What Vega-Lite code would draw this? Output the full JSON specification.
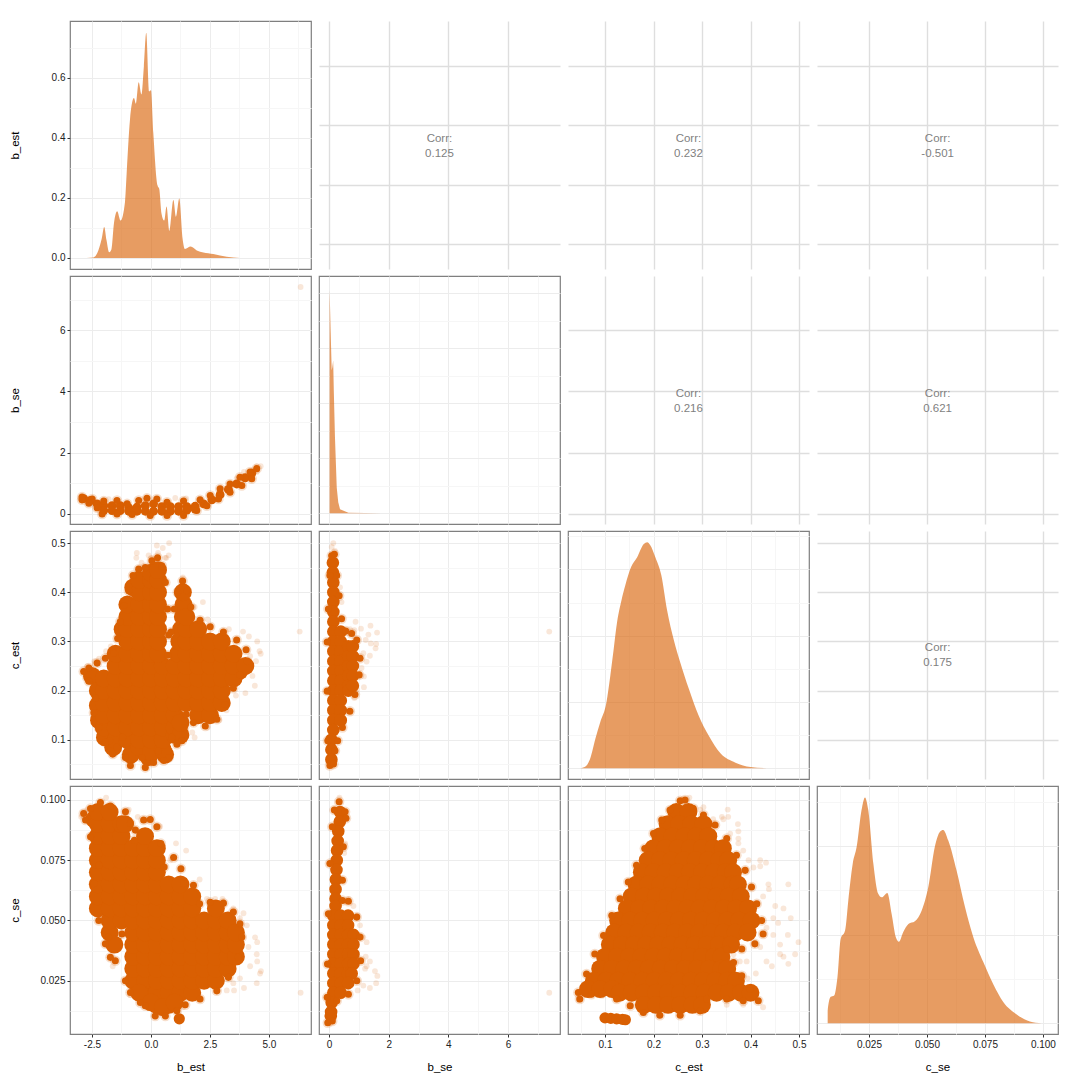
{"$schema":"https://vega.github.io/schema/vega-lite/v6.json","background":"white","padding":{"left":8,"top":20,"right":10,"bottom":5},"columns":4,"spacing":{"row":7,"column":8},"bounds":"flush","config":{"view":{"stroke":"#7f7f7f","strokeWidth":1.2},"axis":{"domain":false,"grid":true,"gridWidth":1,"tickSize":3,"tickColor":"#333333","labelColor":"#222222","labelFont":"Liberation Sans","labelFontSize":10,"labelPadding":2,"labelFlush":false,"labelOverlap":false,"titleFont":"Liberation Sans","titleFontSize":11.5,"titleFontWeight":"normal","titleColor":"#000000","zindex":0},"axisY":{"minExtent":43,"maxExtent":43,"titlePadding":7},"axisX":{"minExtent":20,"maxExtent":20,"titlePadding":7},"text":{"font":"Liberation Sans"}},
"datasets":{
"dbe":[{"x":-3.01,"y":0},{"x":-2.44,"y":0.002},{"x":-2.23,"y":0.025},{"x":-2.09,"y":0.063},{"x":-1.98,"y":0.103},{"x":-1.88,"y":0.058},{"x":-1.77,"y":0.019},{"x":-1.67,"y":0.03},{"x":-1.57,"y":0.114},{"x":-1.43,"y":0.156},{"x":-1.29,"y":0.125},{"x":-1.1,"y":0.187},{"x":-1.03,"y":0.282},{"x":-0.89,"y":0.46},{"x":-0.72,"y":0.533},{"x":-0.64,"y":0.514},{"x":-0.52,"y":0.586},{"x":-0.4,"y":0.545},{"x":-0.3,"y":0.639},{"x":-0.2,"y":0.751},{"x":-0.08,"y":0.555},{"x":0,"y":0.559},{"x":0.1,"y":0.416},{"x":0.28,"y":0.242},{"x":0.35,"y":0.231},{"x":0.45,"y":0.147},{"x":0.56,"y":0.125},{"x":0.66,"y":0.172},{"x":0.78,"y":0.09},{"x":0.95,"y":0.193},{"x":1.06,"y":0.137},{"x":1.2,"y":0.198},{"x":1.34,"y":0.064},{"x":1.44,"y":0.03},{"x":1.68,"y":0.038},{"x":1.94,"y":0.025},{"x":2.22,"y":0.018},{"x":2.64,"y":0.013},{"x":3.21,"y":0.004},{"x":3.77,"y":0}],
"dbs":[{"x":0.02,"y":0},{"x":0.021,"y":8.1},{"x":0.056,"y":6.6},{"x":0.09,"y":5.2},{"x":0.11,"y":5.3},{"x":0.14,"y":5.55},{"x":0.16,"y":4.5},{"x":0.2,"y":2.76},{"x":0.26,"y":0.93},{"x":0.31,"y":0.4},{"x":0.37,"y":0.15},{"x":0.65,"y":0.02},{"x":1.77,"y":0}],
"dce":[{"x":0.049,"y":0},{"x":0.061,"y":0.07},{"x":0.07,"y":0.32},{"x":0.08,"y":0.88},{"x":0.09,"y":1.38},{"x":0.103,"y":1.99},{"x":0.111,"y":2.8},{"x":0.118,"y":3.61},{"x":0.125,"y":4.42},{"x":0.134,"y":5.07},{"x":0.142,"y":5.53},{"x":0.154,"y":6.08},{"x":0.166,"y":6.36},{"x":0.18,"y":6.77},{"x":0.187,"y":6.82},{"x":0.193,"y":6.74},{"x":0.204,"y":6.36},{"x":0.216,"y":5.83},{"x":0.228,"y":4.77},{"x":0.242,"y":3.86},{"x":0.255,"y":3.2},{"x":0.273,"y":2.39},{"x":0.293,"y":1.59},{"x":0.314,"y":0.98},{"x":0.338,"y":0.45},{"x":0.369,"y":0.17},{"x":0.4,"y":0.04},{"x":0.444,"y":0}],
"dcs":[{"x":0.0072,"y":0},{"x":0.0072,"y":1.4},{"x":0.0085,"y":2.98},{"x":0.0099,"y":3.09},{"x":0.0114,"y":5.17},{"x":0.0128,"y":9.5},{"x":0.0147,"y":10.45},{"x":0.0161,"y":13.85},{"x":0.018,"y":18},{"x":0.0197,"y":19.9},{"x":0.0218,"y":24.04},{"x":0.0233,"y":25.47},{"x":0.0247,"y":24.04},{"x":0.0269,"y":18},{"x":0.029,"y":14.6},{"x":0.0305,"y":14.2},{"x":0.0329,"y":14.7},{"x":0.0348,"y":12.3},{"x":0.0366,"y":9.7},{"x":0.0379,"y":9.2},{"x":0.0398,"y":10.3},{"x":0.042,"y":11.2},{"x":0.0448,"y":11.5},{"x":0.0477,"y":12.7},{"x":0.0506,"y":15.4},{"x":0.0534,"y":19.9},{"x":0.0556,"y":21.6},{"x":0.057,"y":21.8},{"x":0.0592,"y":20.6},{"x":0.0628,"y":17.2},{"x":0.0664,"y":13.1},{"x":0.07,"y":9.7},{"x":0.0743,"y":6.9},{"x":0.0786,"y":4.4},{"x":0.0829,"y":2.4},{"x":0.0887,"y":1},{"x":0.0944,"y":0.19},{"x":0.0994,"y":0}],
"fa":[{"x":-2.85,"y":0.24},{"x":-2.8,"y":0.225},{"x":-2.7,"y":0.25},{"x":-2.4,"y":0.26},{"x":-2.2,"y":0.265},{"x":-1.9,"y":0.28},{"x":-1.7,"y":0.29},{"x":-1.45,"y":0.31},{"x":-1.3,"y":0.345},{"x":-1.15,"y":0.38},{"x":-0.75,"y":0.43},{"x":-0.62,"y":0.47},{"x":-0.55,"y":0.43},{"x":-0.4,"y":0.46},{"x":-0.1,"y":0.475},{"x":0,"y":0.47},{"x":0.25,"y":0.495},{"x":0.3,"y":0.48},{"x":0.6,"y":0.47},{"x":0.75,"y":0.475},{"x":0.77,"y":0.5},{"x":0.65,"y":0.47},{"x":0.5,"y":0.49},{"x":1.35,"y":0.43},{"x":1.45,"y":0.41},{"x":1.85,"y":0.37},{"x":2.2,"y":0.38},{"x":2.4,"y":0.345},{"x":3.3,"y":0.325},{"x":3.9,"y":0.32},{"x":4.15,"y":0.31},{"x":4.5,"y":0.3},{"x":4.45,"y":0.26},{"x":4.4,"y":0.21},{"x":4,"y":0.195},{"x":3.6,"y":0.19},{"x":3.2,"y":0.16},{"x":2.9,"y":0.14},{"x":2.4,"y":0.125},{"x":1.75,"y":0.115},{"x":1.85,"y":0.105},{"x":6.3,"y":0.32},{"x":-0.6,"y":0.48},{"x":-0.58,"y":0.44},{"x":4.6,"y":0.28},{"x":4.65,"y":0.275},{"x":4.2,"y":0.27},{"x":4.3,"y":0.23}],
"ea":[{"x":-2.63,"y":0.246},{"x":-2.28,"y":0.256},{"x":-1.93,"y":0.266},{"x":-1.58,"y":0.276},{"x":-1.41,"y":0.306},{"x":-1.3,"y":0.34},{"x":-1.15,"y":0.373},{"x":-0.94,"y":0.403},{"x":-0.76,"y":0.434},{"x":-0.52,"y":0.447},{"x":-0.24,"y":0.45},{"x":0.04,"y":0.464},{"x":0.28,"y":0.47},{"x":0.46,"y":0.454},{"x":0.61,"y":0.42},{"x":0.7,"y":0.366},{"x":0.75,"y":0.313},{"x":0.72,"y":0.272},{"x":0.85,"y":0.319},{"x":0.99,"y":0.366},{"x":1.13,"y":0.4},{"x":1.34,"y":0.423},{"x":1.52,"y":0.403},{"x":1.69,"y":0.37},{"x":2.08,"y":0.343},{"x":2.51,"y":0.33},{"x":3.07,"y":0.319},{"x":3.63,"y":0.303},{"x":4.03,"y":0.283},{"x":4.08,"y":0.259},{"x":3.77,"y":0.232},{"x":3.49,"y":0.205},{"x":3.14,"y":0.172},{"x":2.79,"y":0.142},{"x":2.3,"y":0.128},{"x":1.8,"y":0.135},{"x":1.49,"y":0.152},{"x":1.41,"y":0.125},{"x":1.31,"y":0.098},{"x":1.1,"y":0.091},{"x":0.89,"y":0.105},{"x":0.75,"y":0.064},{"x":0.54,"y":0.058},{"x":0.32,"y":0.078},{"x":0.11,"y":0.054},{"x":-0.24,"y":0.044},{"x":-0.38,"y":0.064},{"x":-0.87,"y":0.048},{"x":-1.08,"y":0.064},{"x":-1.2,"y":0.105},{"x":-1.44,"y":0.085},{"x":-1.62,"y":0.071},{"x":-1.75,"y":0.098},{"x":-1.93,"y":0.095},{"x":-2.21,"y":0.125},{"x":-2.42,"y":0.155},{"x":-2.35,"y":0.185},{"x":-2.63,"y":0.219},{"x":-2.85,"y":0.239}],
"ca":[{"x":-0.75,"y":0.41},{"x":-1.2,"y":0.325},{"x":3.75,"y":0.24},{"x":-2.5,"y":0.23},{"x":-2.25,"y":0.17},{"x":-2.25,"y":0.2},{"x":-2.2,"y":0.14},{"x":-1.95,"y":0.105},{"x":-1.6,"y":0.085},{"x":-0.1,"y":0.065},{"x":0.6,"y":0.07},{"x":-2,"y":0.125},{"x":-2,"y":0.15},{"x":-2,"y":0.175},{"x":-2,"y":0.2},{"x":-2,"y":0.225},{"x":-1.5,"y":0.1},{"x":-1.5,"y":0.125},{"x":-1.5,"y":0.15},{"x":-1.5,"y":0.175},{"x":-1.5,"y":0.2},{"x":-1.5,"y":0.225},{"x":-1.5,"y":0.25},{"x":-1.5,"y":0.275},{"x":-1,"y":0.1},{"x":-1,"y":0.125},{"x":-1,"y":0.15},{"x":-1,"y":0.175},{"x":-1,"y":0.2},{"x":-1,"y":0.225},{"x":-1,"y":0.25},{"x":-1,"y":0.275},{"x":-1,"y":0.3},{"x":-1,"y":0.325},{"x":-1,"y":0.35},{"x":-1,"y":0.375},{"x":-0.85,"y":0.07},{"x":-0.5,"y":0.085},{"x":-0.5,"y":0.1},{"x":-0.5,"y":0.125},{"x":-0.5,"y":0.15},{"x":-0.5,"y":0.175},{"x":-0.5,"y":0.2},{"x":-0.5,"y":0.225},{"x":-0.5,"y":0.25},{"x":-0.5,"y":0.275},{"x":-0.5,"y":0.3},{"x":-0.5,"y":0.325},{"x":-0.5,"y":0.35},{"x":-0.5,"y":0.375},{"x":-0.5,"y":0.4},{"x":-0.5,"y":0.425},{"x":0,"y":0.075},{"x":0,"y":0.1},{"x":0,"y":0.125},{"x":0,"y":0.15},{"x":0,"y":0.175},{"x":0,"y":0.2},{"x":0,"y":0.225},{"x":0,"y":0.25},{"x":0,"y":0.275},{"x":0,"y":0.3},{"x":0,"y":0.325},{"x":0,"y":0.35},{"x":0,"y":0.375},{"x":0,"y":0.4},{"x":0,"y":0.425},{"x":0,"y":0.44},{"x":0.5,"y":0.08},{"x":0.5,"y":0.1},{"x":0.5,"y":0.125},{"x":0.5,"y":0.15},{"x":0.5,"y":0.175},{"x":0.5,"y":0.2},{"x":0.5,"y":0.225},{"x":0.5,"y":0.25},{"x":0.3,"y":0.275},{"x":0.3,"y":0.3},{"x":0.3,"y":0.325},{"x":0.3,"y":0.35},{"x":0.3,"y":0.375},{"x":0.3,"y":0.4},{"x":0.3,"y":0.425},{"x":0.3,"y":0.445},{"x":1,"y":0.11},{"x":1,"y":0.125},{"x":1,"y":0.15},{"x":1,"y":0.175},{"x":1,"y":0.2},{"x":1,"y":0.225},{"x":1,"y":0.25},{"x":1.15,"y":0.275},{"x":1.2,"y":0.3},{"x":1.28,"y":0.325},{"x":1.35,"y":0.35},{"x":1.38,"y":0.375},{"x":1.35,"y":0.4},{"x":1.25,"y":0.11},{"x":1.25,"y":0.135},{"x":1.5,"y":0.175},{"x":1.5,"y":0.2},{"x":1.5,"y":0.225},{"x":1.5,"y":0.25},{"x":1.5,"y":0.275},{"x":1.5,"y":0.3},{"x":1.5,"y":0.325},{"x":1.5,"y":0.35},{"x":2,"y":0.15},{"x":2,"y":0.175},{"x":2,"y":0.2},{"x":2,"y":0.225},{"x":2,"y":0.25},{"x":2,"y":0.275},{"x":2,"y":0.3},{"x":2,"y":0.325},{"x":2.5,"y":0.15},{"x":2.5,"y":0.175},{"x":2.5,"y":0.2},{"x":2.5,"y":0.225},{"x":2.5,"y":0.25},{"x":2.5,"y":0.275},{"x":2.5,"y":0.3},{"x":3,"y":0.175},{"x":3,"y":0.2},{"x":3,"y":0.225},{"x":3,"y":0.25},{"x":3,"y":0.275},{"x":3,"y":0.3},{"x":3.5,"y":0.225},{"x":3.5,"y":0.25},{"x":3.5,"y":0.275},{"x":4,"y":0.25}],
"fb":[{"x":-1.9,"y":0.101},{"x":-2.87,"y":0.095},{"x":-2.96,"y":0.093},{"x":-0.56,"y":0.093},{"x":-0.94,"y":0.096},{"x":1.06,"y":0.082},{"x":1.49,"y":0.079},{"x":2.06,"y":0.067},{"x":-2.35,"y":0.075},{"x":-2.45,"y":0.066},{"x":2.72,"y":0.059},{"x":3.03,"y":0.059},{"x":3.92,"y":0.053},{"x":4.06,"y":0.048},{"x":4.41,"y":0.043},{"x":4.5,"y":0.041},{"x":4.48,"y":0.036},{"x":4.5,"y":0.033},{"x":4.66,"y":0.029},{"x":4.62,"y":0.028},{"x":4.48,"y":0.024},{"x":3.94,"y":0.022},{"x":3.52,"y":0.021},{"x":6.34,"y":0.02},{"x":-1.62,"y":0.031},{"x":-0.87,"y":0.019},{"x":1.35,"y":0.014},{"x":0.82,"y":0.075},{"x":3.49,"y":0.055},{"x":3.77,"y":0.051},{"x":4.13,"y":0.039},{"x":3.21,"y":0.021},{"x":4.2,"y":0.031},{"x":3.77,"y":0.026},{"x":2.37,"y":0.059},{"x":1.8,"y":0.064},{"x":0.39,"y":0.089},{"x":-1.72,"y":0.096},{"x":-2.7,"y":0.096},{"x":3.49,"y":0.024}],
"eb":[{"x":-2.85,"y":0.0944},{"x":-2.56,"y":0.0965},{"x":-2.14,"y":0.0989},{"x":-1.72,"y":0.0975},{"x":-1.08,"y":0.0951},{"x":-0.87,"y":0.0903},{"x":-0.7,"y":0.0833},{"x":-0.66,"y":0.0875},{"x":-0.31,"y":0.0917},{"x":-0.03,"y":0.0919},{"x":0.25,"y":0.0889},{"x":0.42,"y":0.0819},{"x":0.56,"y":0.0722},{"x":0.96,"y":0.0761},{"x":1.27,"y":0.0715},{"x":1.38,"y":0.0653},{"x":1.8,"y":0.0646},{"x":2.06,"y":0.0569},{"x":2.51,"y":0.0576},{"x":3.07,"y":0.0572},{"x":3.49,"y":0.0535},{"x":3.77,"y":0.0486},{"x":3.85,"y":0.0431},{"x":3.7,"y":0.0347},{"x":3.28,"y":0.0264},{"x":2.79,"y":0.0208},{"x":2.08,"y":0.0174},{"x":1.45,"y":0.015},{"x":1.1,"y":0.0125},{"x":0.61,"y":0.0104},{"x":0.18,"y":0.0104},{"x":-0.24,"y":0.0146},{"x":-0.45,"y":0.016},{"x":-0.87,"y":0.0201},{"x":-1.08,"y":0.025},{"x":-1.23,"y":0.0444},{"x":-1.51,"y":0.0333},{"x":-1.72,"y":0.0347},{"x":-1.79,"y":0.0431},{"x":-1.93,"y":0.0403},{"x":-2.21,"y":0.05},{"x":-2.42,"y":0.0653},{"x":-2.21,"y":0.0729},{"x":-2.56,"y":0.0847},{"x":-2.77,"y":0.0917}],
"cb":[{"x":-2.4,"y":0.092},{"x":-2.25,"y":0.055},{"x":-2.25,"y":0.06},{"x":-2.25,"y":0.065},{"x":-2.25,"y":0.07},{"x":-2.25,"y":0.075},{"x":-2.25,"y":0.08},{"x":-2.25,"y":0.085},{"x":-2.25,"y":0.09},{"x":-2.25,"y":0.095},{"x":-1.75,"y":0.045},{"x":-1.75,"y":0.05},{"x":-1.75,"y":0.055},{"x":-1.75,"y":0.06},{"x":-1.75,"y":0.065},{"x":-1.75,"y":0.07},{"x":-1.75,"y":0.075},{"x":-1.75,"y":0.08},{"x":-1.75,"y":0.085},{"x":-1.75,"y":0.09},{"x":-1.75,"y":0.095},{"x":-1.55,"y":0.04},{"x":-1.25,"y":0.05},{"x":-1.25,"y":0.055},{"x":-1.25,"y":0.06},{"x":-1.25,"y":0.065},{"x":-1.25,"y":0.07},{"x":-1.25,"y":0.075},{"x":-1.25,"y":0.08},{"x":-1.25,"y":0.085},{"x":-1.25,"y":0.09},{"x":-0.75,"y":0.025},{"x":-0.75,"y":0.03},{"x":-0.75,"y":0.035},{"x":-0.75,"y":0.04},{"x":-0.75,"y":0.045},{"x":-0.75,"y":0.05},{"x":-0.75,"y":0.055},{"x":-0.75,"y":0.06},{"x":-0.75,"y":0.065},{"x":-0.75,"y":0.07},{"x":-0.75,"y":0.075},{"x":-0.75,"y":0.08},{"x":-0.25,"y":0.02},{"x":-0.25,"y":0.025},{"x":-0.25,"y":0.03},{"x":-0.25,"y":0.035},{"x":-0.25,"y":0.04},{"x":-0.25,"y":0.045},{"x":-0.25,"y":0.05},{"x":-0.25,"y":0.055},{"x":-0.25,"y":0.06},{"x":-0.25,"y":0.065},{"x":-0.25,"y":0.07},{"x":-0.25,"y":0.075},{"x":-0.25,"y":0.08},{"x":-0.25,"y":0.085},{"x":0.25,"y":0.015},{"x":0.25,"y":0.02},{"x":0.25,"y":0.025},{"x":0.25,"y":0.03},{"x":0.25,"y":0.035},{"x":0.25,"y":0.04},{"x":0.25,"y":0.045},{"x":0.25,"y":0.05},{"x":0.25,"y":0.055},{"x":0.25,"y":0.06},{"x":0.25,"y":0.065},{"x":0.25,"y":0.07},{"x":0.25,"y":0.075},{"x":0.25,"y":0.08},{"x":0.75,"y":0.015},{"x":0.75,"y":0.02},{"x":0.75,"y":0.025},{"x":0.75,"y":0.03},{"x":0.75,"y":0.035},{"x":0.75,"y":0.04},{"x":0.75,"y":0.045},{"x":0.75,"y":0.05},{"x":0.75,"y":0.055},{"x":0.75,"y":0.06},{"x":0.75,"y":0.065},{"x":1.25,"y":0.02},{"x":1.25,"y":0.025},{"x":1.25,"y":0.03},{"x":1.25,"y":0.035},{"x":1.25,"y":0.04},{"x":1.25,"y":0.045},{"x":1.25,"y":0.05},{"x":1.25,"y":0.055},{"x":1.25,"y":0.06},{"x":1.25,"y":0.065},{"x":1.75,"y":0.02},{"x":1.75,"y":0.025},{"x":1.75,"y":0.03},{"x":1.75,"y":0.035},{"x":1.75,"y":0.04},{"x":1.75,"y":0.045},{"x":1.75,"y":0.05},{"x":1.75,"y":0.055},{"x":1.75,"y":0.06},{"x":2.25,"y":0.025},{"x":2.25,"y":0.03},{"x":2.25,"y":0.035},{"x":2.25,"y":0.04},{"x":2.25,"y":0.045},{"x":2.25,"y":0.05},{"x":2.75,"y":0.025},{"x":2.75,"y":0.03},{"x":2.75,"y":0.035},{"x":2.75,"y":0.04},{"x":2.75,"y":0.045},{"x":2.75,"y":0.05},{"x":2.75,"y":0.055},{"x":3.25,"y":0.03},{"x":3.25,"y":0.035},{"x":3.25,"y":0.04},{"x":3.25,"y":0.045},{"x":3.25,"y":0.05},{"x":3.6,"y":0.035},{"x":3.6,"y":0.04},{"x":3.6,"y":0.045},{"x":-0.5,"y":0.02},{"x":0,"y":0.016},{"x":0.5,"y":0.014},{"x":1,"y":0.016},{"x":-1.1,"y":0.09}],
"sb":[{"x":1.2,"y":0.0092}],
"fc":[{"x":0.274,"y":0.101},{"x":0.353,"y":0.096},{"x":0.354,"y":0.093},{"x":0.341,"y":0.093},{"x":0.374,"y":0.09},{"x":0.375,"y":0.087},{"x":0.375,"y":0.084},{"x":0.375,"y":0.082},{"x":0.396,"y":0.075},{"x":0.42,"y":0.075},{"x":0.432,"y":0.074},{"x":0.42,"y":0.0725},{"x":0.437,"y":0.065},{"x":0.478,"y":0.065},{"x":0.438,"y":0.063},{"x":0.468,"y":0.055},{"x":0.483,"y":0.051},{"x":0.451,"y":0.056},{"x":0.457,"y":0.049},{"x":0.447,"y":0.044},{"x":0.477,"y":0.044},{"x":0.499,"y":0.041},{"x":0.492,"y":0.036},{"x":0.468,"y":0.035},{"x":0.478,"y":0.032},{"x":0.433,"y":0.033},{"x":0.444,"y":0.031},{"x":0.411,"y":0.028},{"x":0.394,"y":0.026},{"x":0.426,"y":0.014},{"x":0.385,"y":0.015},{"x":0.046,"y":0.017},{"x":0.048,"y":0.019},{"x":0.303,"y":0.097},{"x":0.323,"y":0.092},{"x":0.344,"y":0.092},{"x":0.296,"y":0.096},{"x":0.358,"y":0.086},{"x":0.385,"y":0.079},{"x":0.406,"y":0.072},{"x":0.426,"y":0.06},{"x":0.447,"y":0.051},{"x":0.433,"y":0.047},{"x":0.461,"y":0.04},{"x":0.42,"y":0.039},{"x":0.392,"y":0.033},{"x":0.365,"y":0.036},{"x":0.378,"y":0.033},{"x":0.406,"y":0.021},{"x":0.351,"y":0.015},{"x":0.31,"y":0.016},{"x":0.461,"y":0.036}],
"ec":[{"x":0.045,"y":0.0201},{"x":0.062,"y":0.0278},{"x":0.079,"y":0.0361},{"x":0.097,"y":0.0438},{"x":0.114,"y":0.0521},{"x":0.131,"y":0.059},{"x":0.148,"y":0.066},{"x":0.165,"y":0.0729},{"x":0.182,"y":0.0799},{"x":0.2,"y":0.0861},{"x":0.217,"y":0.0917},{"x":0.234,"y":0.0958},{"x":0.255,"y":0.0997},{"x":0.265,"y":0.1},{"x":0.282,"y":0.0965},{"x":0.303,"y":0.0938},{"x":0.327,"y":0.0896},{"x":0.351,"y":0.084},{"x":0.371,"y":0.0771},{"x":0.389,"y":0.0708},{"x":0.402,"y":0.0639},{"x":0.413,"y":0.0569},{"x":0.423,"y":0.05},{"x":0.426,"y":0.0444},{"x":0.409,"y":0.0403},{"x":0.382,"y":0.0382},{"x":0.351,"y":0.0382},{"x":0.365,"y":0.0326},{"x":0.382,"y":0.0271},{"x":0.399,"y":0.0215},{"x":0.416,"y":0.0167},{"x":0.385,"y":0.0167},{"x":0.351,"y":0.0174},{"x":0.31,"y":0.0174},{"x":0.296,"y":0.0125},{"x":0.255,"y":0.0107},{"x":0.213,"y":0.0107},{"x":0.179,"y":0.0118},{"x":0.152,"y":0.0146},{"x":0.124,"y":0.0174},{"x":0.093,"y":0.0197},{"x":0.072,"y":0.0194},{"x":0.048,"y":0.0174}],
"cc":[{"x":0.247,"y":0.095},{"x":0.272,"y":0.095},{"x":0.229,"y":0.09},{"x":0.253,"y":0.09},{"x":0.278,"y":0.09},{"x":0.303,"y":0.09},{"x":0.214,"y":0.085},{"x":0.239,"y":0.085},{"x":0.264,"y":0.085},{"x":0.288,"y":0.085},{"x":0.313,"y":0.085},{"x":0.2,"y":0.08},{"x":0.225,"y":0.08},{"x":0.25,"y":0.08},{"x":0.275,"y":0.08},{"x":0.3,"y":0.08},{"x":0.324,"y":0.08},{"x":0.343,"y":0.08},{"x":0.188,"y":0.075},{"x":0.213,"y":0.075},{"x":0.237,"y":0.075},{"x":0.262,"y":0.075},{"x":0.287,"y":0.075},{"x":0.312,"y":0.075},{"x":0.336,"y":0.075},{"x":0.354,"y":0.075},{"x":0.176,"y":0.07},{"x":0.2,"y":0.07},{"x":0.225,"y":0.07},{"x":0.25,"y":0.07},{"x":0.275,"y":0.07},{"x":0.3,"y":0.07},{"x":0.324,"y":0.07},{"x":0.349,"y":0.07},{"x":0.364,"y":0.07},{"x":0.165,"y":0.065},{"x":0.189,"y":0.065},{"x":0.214,"y":0.065},{"x":0.239,"y":0.065},{"x":0.264,"y":0.065},{"x":0.288,"y":0.065},{"x":0.313,"y":0.065},{"x":0.338,"y":0.065},{"x":0.363,"y":0.065},{"x":0.374,"y":0.065},{"x":0.155,"y":0.06},{"x":0.18,"y":0.06},{"x":0.205,"y":0.06},{"x":0.23,"y":0.06},{"x":0.255,"y":0.06},{"x":0.28,"y":0.06},{"x":0.305,"y":0.06},{"x":0.33,"y":0.06},{"x":0.355,"y":0.06},{"x":0.38,"y":0.06},{"x":0.145,"y":0.055},{"x":0.17,"y":0.055},{"x":0.195,"y":0.055},{"x":0.22,"y":0.055},{"x":0.245,"y":0.055},{"x":0.27,"y":0.055},{"x":0.295,"y":0.055},{"x":0.32,"y":0.055},{"x":0.345,"y":0.055},{"x":0.37,"y":0.055},{"x":0.395,"y":0.055},{"x":0.127,"y":0.05},{"x":0.152,"y":0.05},{"x":0.177,"y":0.05},{"x":0.202,"y":0.05},{"x":0.227,"y":0.05},{"x":0.252,"y":0.05},{"x":0.277,"y":0.05},{"x":0.302,"y":0.05},{"x":0.327,"y":0.05},{"x":0.352,"y":0.05},{"x":0.377,"y":0.05},{"x":0.402,"y":0.05},{"x":0.119,"y":0.045},{"x":0.144,"y":0.045},{"x":0.169,"y":0.045},{"x":0.194,"y":0.045},{"x":0.219,"y":0.045},{"x":0.244,"y":0.045},{"x":0.269,"y":0.045},{"x":0.294,"y":0.045},{"x":0.319,"y":0.045},{"x":0.344,"y":0.045},{"x":0.369,"y":0.045},{"x":0.394,"y":0.045},{"x":0.11,"y":0.04},{"x":0.135,"y":0.04},{"x":0.16,"y":0.04},{"x":0.185,"y":0.04},{"x":0.21,"y":0.04},{"x":0.235,"y":0.04},{"x":0.26,"y":0.04},{"x":0.285,"y":0.04},{"x":0.31,"y":0.04},{"x":0.335,"y":0.04},{"x":0.36,"y":0.04},{"x":0.1,"y":0.035},{"x":0.125,"y":0.035},{"x":0.15,"y":0.035},{"x":0.175,"y":0.035},{"x":0.2,"y":0.035},{"x":0.225,"y":0.035},{"x":0.25,"y":0.035},{"x":0.275,"y":0.035},{"x":0.3,"y":0.035},{"x":0.325,"y":0.035},{"x":0.34,"y":0.035},{"x":0.09,"y":0.03},{"x":0.115,"y":0.03},{"x":0.14,"y":0.03},{"x":0.165,"y":0.03},{"x":0.19,"y":0.03},{"x":0.215,"y":0.03},{"x":0.24,"y":0.03},{"x":0.265,"y":0.03},{"x":0.29,"y":0.03},{"x":0.315,"y":0.03},{"x":0.34,"y":0.03},{"x":0.352,"y":0.03},{"x":0.077,"y":0.025},{"x":0.102,"y":0.025},{"x":0.127,"y":0.025},{"x":0.152,"y":0.025},{"x":0.177,"y":0.025},{"x":0.202,"y":0.025},{"x":0.227,"y":0.025},{"x":0.252,"y":0.025},{"x":0.277,"y":0.025},{"x":0.302,"y":0.025},{"x":0.327,"y":0.025},{"x":0.352,"y":0.025},{"x":0.37,"y":0.025},{"x":0.065,"y":0.0215},{"x":0.09,"y":0.0215},{"x":0.115,"y":0.0215},{"x":0.13,"y":0.02},{"x":0.155,"y":0.02},{"x":0.18,"y":0.02},{"x":0.205,"y":0.02},{"x":0.23,"y":0.02},{"x":0.255,"y":0.02},{"x":0.28,"y":0.02},{"x":0.305,"y":0.02},{"x":0.33,"y":0.02},{"x":0.355,"y":0.02},{"x":0.38,"y":0.02},{"x":0.4,"y":0.02},{"x":0.18,"y":0.015},{"x":0.205,"y":0.015},{"x":0.23,"y":0.015},{"x":0.255,"y":0.015},{"x":0.28,"y":0.015},{"x":0.3,"y":0.015}],
"sc":[{"x":0.1,"y":0.0096},{"x":0.112,"y":0.0094},{"x":0.124,"y":0.0092},{"x":0.136,"y":0.009},{"x":0.142,"y":0.0088}],
"fd":[{"x":0.145,"y":0.5},{"x":0.09,"y":0.492},{"x":0.2,"y":0.484},{"x":0.37,"y":0.41},{"x":0.42,"y":0.38},{"x":0.45,"y":0.346},{"x":0.89,"y":0.34},{"x":1.07,"y":0.326},{"x":1.39,"y":0.332},{"x":1.61,"y":0.318},{"x":0.7,"y":0.325},{"x":0.85,"y":0.323},{"x":1.23,"y":0.303},{"x":1.32,"y":0.314},{"x":1.4,"y":0.296},{"x":1.58,"y":0.295},{"x":1.56,"y":0.286},{"x":1.37,"y":0.271},{"x":1.15,"y":0.276},{"x":1.26,"y":0.259},{"x":1.17,"y":0.229},{"x":1.17,"y":0.207},{"x":0.93,"y":0.202},{"x":0.85,"y":0.185},{"x":1.09,"y":0.246},{"x":7.38,"y":0.32}],
"ed":[{"x":0.03,"y":0.048},{"x":-0.04,"y":0.098},{"x":-0.06,"y":0.199},{"x":-0.06,"y":0.299},{"x":-0.02,"y":0.366},{"x":0.03,"y":0.434},{"x":0.09,"y":0.474},{"x":0.18,"y":0.477},{"x":0.26,"y":0.434},{"x":0.34,"y":0.393},{"x":0.42,"y":0.346},{"x":0.56,"y":0.321},{"x":0.76,"y":0.316},{"x":0.93,"y":0.303},{"x":1.04,"y":0.266},{"x":1.01,"y":0.232},{"x":0.87,"y":0.192},{"x":0.7,"y":0.158},{"x":0.45,"y":0.125},{"x":0.29,"y":0.098},{"x":0.15,"y":0.051},{"x":0.2,"y":0.078}],
"cd":[{"x":0.13,"y":0.46},{"x":0.13,"y":0.44},{"x":0.145,"y":0.42},{"x":0.145,"y":0.4},{"x":0.145,"y":0.38},{"x":0.145,"y":0.36},{"x":0.145,"y":0.34},{"x":0.145,"y":0.32},{"x":0.145,"y":0.3},{"x":0.145,"y":0.28},{"x":0.145,"y":0.26},{"x":0.145,"y":0.24},{"x":0.145,"y":0.22},{"x":0.145,"y":0.2},{"x":0.145,"y":0.18},{"x":0.145,"y":0.16},{"x":0.145,"y":0.14},{"x":0.145,"y":0.12},{"x":0.08,"y":0.1},{"x":0.08,"y":0.08},{"x":0.08,"y":0.06},{"x":0.395,"y":0.32},{"x":0.395,"y":0.3},{"x":0.395,"y":0.28},{"x":0.395,"y":0.26},{"x":0.395,"y":0.24},{"x":0.395,"y":0.22},{"x":0.395,"y":0.2},{"x":0.395,"y":0.18},{"x":0.395,"y":0.16},{"x":0.395,"y":0.14},{"x":0.645,"y":0.29},{"x":0.645,"y":0.27},{"x":0.645,"y":0.25},{"x":0.645,"y":0.23},{"x":0.645,"y":0.21},{"x":0.645,"y":0.2},{"x":0.8,"y":0.29},{"x":0.8,"y":0.27},{"x":0.8,"y":0.25},{"x":0.8,"y":0.23},{"x":0.8,"y":0.21}],
"fe":[{"x":0.35,"y":0.101},{"x":0.54,"y":0.082},{"x":0.51,"y":0.078},{"x":0.45,"y":0.067},{"x":0.65,"y":0.059},{"x":0.96,"y":0.052},{"x":1.04,"y":0.048},{"x":1.15,"y":0.043},{"x":1.26,"y":0.041},{"x":1.23,"y":0.035},{"x":1.37,"y":0.033},{"x":1.21,"y":0.03},{"x":1.54,"y":0.029},{"x":1.62,"y":0.027},{"x":1.58,"y":0.024},{"x":1.37,"y":0.022},{"x":1.15,"y":0.023},{"x":0.96,"y":0.021},{"x":1.26,"y":0.031},{"x":7.38,"y":0.02},{"x":0.82,"y":0.056}],
"ee":[{"x":0.34,"y":0.0993},{"x":0.54,"y":0.0951},{"x":0.57,"y":0.0924},{"x":0.48,"y":0.0806},{"x":0.45,"y":0.0667},{"x":0.45,"y":0.0583},{"x":0.65,"y":0.058},{"x":0.93,"y":0.0514},{"x":1.04,"y":0.0431},{"x":1.06,"y":0.0333},{"x":0.93,"y":0.025},{"x":0.65,"y":0.0194},{"x":0.26,"y":0.0167},{"x":0.11,"y":0.0083},{"x":-0.04,"y":0.0076},{"x":-0.06,"y":0.0181},{"x":-0.05,"y":0.0319},{"x":-0.02,"y":0.0528},{"x":0.03,"y":0.0736},{"x":0.11,"y":0.0889},{"x":0.18,"y":0.0958}],
"ce":[{"x":0.37,"y":0.095},{"x":0.36,"y":0.091},{"x":0.31,"y":0.087},{"x":0.29,"y":0.083},{"x":0.27,"y":0.079},{"x":0.26,"y":0.075},{"x":0.25,"y":0.071},{"x":0.23,"y":0.067},{"x":0.22,"y":0.063},{"x":0.22,"y":0.059},{"x":0.22,"y":0.056},{"x":0.145,"y":0.052},{"x":0.39,"y":0.052},{"x":0.64,"y":0.052},{"x":0.145,"y":0.048},{"x":0.39,"y":0.048},{"x":0.64,"y":0.048},{"x":0.145,"y":0.044},{"x":0.39,"y":0.044},{"x":0.64,"y":0.044},{"x":0.82,"y":0.044},{"x":0.145,"y":0.04},{"x":0.39,"y":0.04},{"x":0.64,"y":0.04},{"x":0.82,"y":0.04},{"x":0.145,"y":0.036},{"x":0.39,"y":0.036},{"x":0.64,"y":0.036},{"x":0.82,"y":0.036},{"x":0.145,"y":0.032},{"x":0.39,"y":0.032},{"x":0.64,"y":0.032},{"x":0.82,"y":0.032},{"x":0.145,"y":0.028},{"x":0.39,"y":0.028},{"x":0.64,"y":0.028},{"x":0.76,"y":0.028},{"x":0.145,"y":0.024},{"x":0.39,"y":0.024},{"x":0.64,"y":0.024},{"x":0.145,"y":0.02},{"x":0.39,"y":0.02},{"x":0.09,"y":0.016},{"x":0.07,"y":0.012},{"x":0.06,"y":0.0105}],
"ff":[{"x":-2.92,"y":0.55},{"x":-2.77,"y":0.51},{"x":1.03,"y":0.52},{"x":1.49,"y":0.51},{"x":-0.17,"y":0.49},{"x":-1.79,"y":0.48},{"x":3.94,"y":1.37},{"x":4.48,"y":1.56},{"x":4.65,"y":1.56},{"x":4.34,"y":1.42},{"x":6.34,"y":7.41},{"x":4.48,"y":1.37},{"x":4.2,"y":1.2},{"x":3.63,"y":1.15}],
"ef":[{"x":-2.92,"y":0.55},{"x":-2.49,"y":0.49},{"x":-2,"y":0.42},{"x":-1.44,"y":0.44},{"x":-1.01,"y":0.33},{"x":-0.52,"y":0.44},{"x":-0.17,"y":0.51},{"x":0.25,"y":0.49},{"x":0.68,"y":0.38},{"x":1.38,"y":0.42},{"x":2.08,"y":0.46},{"x":2.51,"y":0.6},{"x":2.93,"y":0.82},{"x":3.35,"y":0.98},{"x":3.77,"y":1.2},{"x":4.2,"y":1.37},{"x":4.48,"y":1.48},{"x":4.27,"y":1.15},{"x":3.85,"y":0.93},{"x":3.35,"y":0.71},{"x":2.86,"y":0.49},{"x":2.37,"y":0.27},{"x":1.94,"y":0.11},{"x":1.38,"y":-0.05},{"x":0.68,"y":-0.05},{"x":-0.03,"y":-0.05},{"x":-0.8,"y":-0.02},{"x":-1.44,"y":0},{"x":-2.07,"y":0},{"x":-2.28,"y":0.2},{"x":-2.63,"y":0.35},{"x":-2.92,"y":0.46}],
"cf":[{"x":-2.85,"y":0.5},{"x":-2.56,"y":0.44},{"x":-2.28,"y":0.33},{"x":-2,"y":0.27},{"x":-2,"y":0.11},{"x":-1.65,"y":0.27},{"x":-1.65,"y":0.11},{"x":-1.3,"y":0.27},{"x":-1.3,"y":0.11},{"x":-0.94,"y":0.2},{"x":-0.94,"y":0.09},{"x":-0.59,"y":0.22},{"x":-0.59,"y":0.09},{"x":-0.24,"y":0.27},{"x":-0.24,"y":0.09},{"x":0.11,"y":0.33},{"x":0.11,"y":0.09},{"x":0.46,"y":0.24},{"x":0.46,"y":0.09},{"x":0.82,"y":0.24},{"x":0.82,"y":0.09},{"x":1.17,"y":0.24},{"x":1.17,"y":0.09},{"x":1.52,"y":0.24},{"x":1.52,"y":0.13},{"x":1.87,"y":0.25},{"x":1.87,"y":0.16},{"x":2.23,"y":0.33},{"x":2.58,"y":0.46},{"x":2.93,"y":0.63},{"x":3.28,"y":0.8},{"x":3.63,"y":0.98},{"x":3.99,"y":1.18},{"x":4.27,"y":1.33}],
"t1":[{"x":3.7,"y":1.675,"t":"Corr:\n0.125"}],"t2":[{"x":0.272,"y":1.675,"t":"Corr:\n0.232"}],"t3":[{"x":0.0546,"y":1.675,"t":"Corr:\n-0.501"}],"t4":[{"x":0.272,"y":3.72,"t":"Corr:\n0.216"}],"t5":[{"x":0.0546,"y":3.72,"t":"Corr:\n0.621"}],"t6":[{"x":0.0546,"y":0.2725,"t":"Corr:\n0.175"}]
},
"concat":[
{"width":241,"height":248,"data":{"name":"dbe"},"mark":{"type":"area","color":"#d95f02","opacity":0.62,"interpolate":"monotone"},"encoding":{"x":{"field":"x","type":"quantitative","scale":{"domain":[-3.43,6.78],"nice":false,"zero":false},"axis":{"values":[-2.5,-1.25,0,1.25,2.5,3.75,5,6.25],"gridColor":{"condition":{"test":"datum.value%2.5!=0","value":"#f6f6f6"},"value":"#ececec"},"labels":false,"ticks":false,"title":null}},"y":{"field":"y","type":"quantitative","scale":{"domain":[-0.0367,0.79],"nice":false,"zero":false},"axis":{"values":[0,0.1,0.2,0.3,0.4,0.5,0.6,0.7],"gridColor":{"condition":{"test":"round(datum.value*10)%2!=0","value":"#f6f6f6"},"value":"#ececec"},"tickOpacity":{"condition":{"test":"round(datum.value*10)%2!=0","value":0},"value":1},"labelExpr":"round(datum.value*10)%2!=0?'':format(datum.value,'.1f')","title":"b_est"}}}},
{"width":241,"height":248,"view":{"stroke":null},"data":{"name":"t1"},"mark":{"type":"text","color":"#7f7f7f","fontSize":11.5,"lineBreak":"\n","lineHeight":15,"baseline":"middle","dy":-6.5},"encoding":{"text":{"field":"t"},"x":{"field":"x","type":"quantitative","scale":{"domain":[-0.335,7.74],"nice":false,"zero":false},"axis":{"values":[0,2,4,6],"gridColor":"#dedede","gridWidth":1.4,"labels":false,"ticks":false,"title":null}},"y":{"field":"y","type":"quantitative","scale":{"domain":[-3.55,6.9],"nice":false,"zero":false},"axis":{"values":[-2.5,0,2.5,5],"gridColor":"#dedede","gridWidth":1.4,"labels":false,"ticks":false,"title":null}}}},
{"width":241,"height":248,"view":{"stroke":null},"data":{"name":"t2"},"mark":{"type":"text","color":"#7f7f7f","fontSize":11.5,"lineBreak":"\n","lineHeight":15,"baseline":"middle","dy":-6.5},"encoding":{"text":{"field":"t"},"x":{"field":"x","type":"quantitative","scale":{"domain":[0.0237,0.5206],"nice":false,"zero":false},"axis":{"values":[0.1,0.2,0.3,0.4,0.5],"gridColor":"#dedede","gridWidth":1.4,"labels":false,"ticks":false,"title":null}},"y":{"field":"y","type":"quantitative","scale":{"domain":[-3.55,6.9],"nice":false,"zero":false},"axis":{"values":[-2.5,0,2.5,5],"gridColor":"#dedede","gridWidth":1.4,"labels":false,"ticks":false,"title":null}}}},
{"width":241,"height":248,"view":{"stroke":null},"data":{"name":"t3"},"mark":{"type":"text","color":"#7f7f7f","fontSize":11.5,"lineBreak":"\n","lineHeight":15,"baseline":"middle","dy":-6.5},"encoding":{"text":{"field":"t"},"x":{"field":"x","type":"quantitative","scale":{"domain":[0.0026,0.1065],"nice":false,"zero":false},"axis":{"values":[0.025,0.05,0.075,0.1],"gridColor":"#dedede","gridWidth":1.4,"labels":false,"ticks":false,"title":null}},"y":{"field":"y","type":"quantitative","scale":{"domain":[-3.55,6.9],"nice":false,"zero":false},"axis":{"values":[-2.5,0,2.5,5],"gridColor":"#dedede","gridWidth":1.4,"labels":false,"ticks":false,"title":null}}}},

{"width":241,"height":248,"encoding":{"x":{"field":"x","type":"quantitative","scale":{"domain":[-3.43,6.78],"nice":false,"zero":false},"axis":{"values":[-2.5,-1.25,0,1.25,2.5,3.75,5,6.25],"gridColor":{"condition":{"test":"datum.value%2.5!=0","value":"#f6f6f6"},"value":"#ececec"},"labels":false,"ticks":false,"title":null}},"y":{"field":"y","type":"quantitative","scale":{"domain":[-0.328,7.77],"nice":false,"zero":false},"axis":{"values":[0,1,2,3,4,5,6,7],"gridColor":{"condition":{"test":"datum.value%2!=0","value":"#f6f6f6"},"value":"#ececec"},"tickOpacity":{"condition":{"test":"datum.value%2!=0","value":0},"value":1},"labelExpr":"datum.value%2!=0?'':format(datum.value,'d')","title":"b_se"}}},"layer":[{"data":{"name":"ff"},"mark":{"type":"circle","size":34,"color":"#d95f02","opacity":0.15}},{"data":{"name":"ef"},"mark":{"type":"circle","size":110,"color":"#d95f02","opacity":0.2}},{"data":{"name":"cf"},"mark":{"type":"circle","size":80,"color":"#d95f02","opacity":1}},{"data":{"name":"ef"},"mark":{"type":"circle","size":50,"color":"#d95f02","opacity":1}}]},
{"width":241,"height":248,"data":{"name":"dbs"},"mark":{"type":"area","color":"#d95f02","opacity":0.62},"encoding":{"x":{"field":"x","type":"quantitative","scale":{"domain":[-0.335,7.74],"nice":false,"zero":false},"axis":{"values":[0,1,2,3,4,5,6,7],"gridColor":{"condition":{"test":"datum.value%2!=0","value":"#f6f6f6"},"value":"#ececec"},"labels":false,"ticks":false,"title":null}},"y":{"field":"y","type":"quantitative","scale":{"domain":[-0.39,8.62],"nice":false,"zero":false},"axis":{"values":[0,1,2,3,4,5,6,7,8],"gridColor":{"condition":{"test":"datum.value%2!=0","value":"#f6f6f6"},"value":"#ececec"},"labels":false,"ticks":false,"title":null}}}},
{"width":241,"height":248,"view":{"stroke":null},"data":{"name":"t4"},"mark":{"type":"text","color":"#7f7f7f","fontSize":11.5,"lineBreak":"\n","lineHeight":15,"baseline":"middle","dy":-6.5},"encoding":{"text":{"field":"t"},"x":{"field":"x","type":"quantitative","scale":{"domain":[0.0237,0.5206],"nice":false,"zero":false},"axis":{"values":[0.1,0.2,0.3,0.4,0.5],"gridColor":"#dedede","gridWidth":1.4,"labels":false,"ticks":false,"title":null}},"y":{"field":"y","type":"quantitative","scale":{"domain":[-0.328,7.77],"nice":false,"zero":false},"axis":{"values":[0,2,4,6],"gridColor":"#dedede","gridWidth":1.4,"labels":false,"ticks":false,"title":null}}}},
{"width":241,"height":248,"view":{"stroke":null},"data":{"name":"t5"},"mark":{"type":"text","color":"#7f7f7f","fontSize":11.5,"lineBreak":"\n","lineHeight":15,"baseline":"middle","dy":-6.5},"encoding":{"text":{"field":"t"},"x":{"field":"x","type":"quantitative","scale":{"domain":[0.0026,0.1065],"nice":false,"zero":false},"axis":{"values":[0.025,0.05,0.075,0.1],"gridColor":"#dedede","gridWidth":1.4,"labels":false,"ticks":false,"title":null}},"y":{"field":"y","type":"quantitative","scale":{"domain":[-0.328,7.77],"nice":false,"zero":false},"axis":{"values":[0,2,4,6],"gridColor":"#dedede","gridWidth":1.4,"labels":false,"ticks":false,"title":null}}}},

{"width":241,"height":248,"encoding":{"x":{"field":"x","type":"quantitative","scale":{"domain":[-3.43,6.78],"nice":false,"zero":false},"axis":{"values":[-2.5,-1.25,0,1.25,2.5,3.75,5,6.25],"gridColor":{"condition":{"test":"datum.value%2.5!=0","value":"#f6f6f6"},"value":"#ececec"},"labels":false,"ticks":false,"title":null}},"y":{"field":"y","type":"quantitative","scale":{"domain":[0.0204,0.5245],"nice":false,"zero":false},"axis":{"values":[0.05,0.1,0.15,0.2,0.25,0.3,0.35,0.4,0.45,0.5],"gridColor":{"condition":{"test":"round(datum.value*100)%10!=0","value":"#f6f6f6"},"value":"#ececec"},"tickOpacity":{"condition":{"test":"round(datum.value*100)%10!=0","value":0},"value":1},"labelExpr":"round(datum.value*100)%10!=0?'':format(datum.value,'.1f')","title":"c_est"}}},"layer":[{"data":{"name":"fa"},"mark":{"type":"circle","size":34,"color":"#d95f02","opacity":0.15}},{"data":{"name":"ea"},"mark":{"type":"circle","size":110,"color":"#d95f02","opacity":0.2}},{"data":{"name":"ca"},"mark":{"type":"circle","size":320,"color":"#d95f02","opacity":1}},{"data":{"name":"ea"},"mark":{"type":"circle","size":50,"color":"#d95f02","opacity":1}}]},
{"width":241,"height":248,"encoding":{"x":{"field":"x","type":"quantitative","scale":{"domain":[-0.335,7.74],"nice":false,"zero":false},"axis":{"values":[0,1,2,3,4,5,6,7],"gridColor":{"condition":{"test":"datum.value%2!=0","value":"#f6f6f6"},"value":"#ececec"},"labels":false,"ticks":false,"title":null}},"y":{"field":"y","type":"quantitative","scale":{"domain":[0.0204,0.5245],"nice":false,"zero":false},"axis":{"values":[0.05,0.1,0.15,0.2,0.25,0.3,0.35,0.4,0.45,0.5],"gridColor":{"condition":{"test":"round(datum.value*100)%10!=0","value":"#f6f6f6"},"value":"#ececec"},"labels":false,"ticks":false,"title":null}}},"layer":[{"data":{"name":"fd"},"mark":{"type":"circle","size":34,"color":"#d95f02","opacity":0.15}},{"data":{"name":"ed"},"mark":{"type":"circle","size":110,"color":"#d95f02","opacity":0.2}},{"data":{"name":"cd"},"mark":{"type":"circle","size":160,"color":"#d95f02","opacity":1}},{"data":{"name":"ed"},"mark":{"type":"circle","size":50,"color":"#d95f02","opacity":1}}]},
{"width":241,"height":248,"data":{"name":"dce"},"mark":{"type":"area","color":"#d95f02","opacity":0.62,"interpolate":"monotone"},"encoding":{"x":{"field":"x","type":"quantitative","scale":{"domain":[0.0237,0.5206],"nice":false,"zero":false},"axis":{"values":[0.05,0.1,0.15,0.2,0.25,0.3,0.35,0.4,0.45,0.5],"gridColor":{"condition":{"test":"round(datum.value*100)%10!=0","value":"#f6f6f6"},"value":"#ececec"},"labels":false,"ticks":false,"title":null}},"y":{"field":"y","type":"quantitative","scale":{"domain":[-0.324,7.16],"nice":false,"zero":false},"axis":{"values":[0,1,2,3,4,5,6,7],"gridColor":{"condition":{"test":"datum.value%2!=0","value":"#f6f6f6"},"value":"#ececec"},"labels":false,"ticks":false,"title":null}}}},
{"width":241,"height":248,"view":{"stroke":null},"data":{"name":"t6"},"mark":{"type":"text","color":"#7f7f7f","fontSize":11.5,"lineBreak":"\n","lineHeight":15,"baseline":"middle","dy":-6.5},"encoding":{"text":{"field":"t"},"x":{"field":"x","type":"quantitative","scale":{"domain":[0.0026,0.1065],"nice":false,"zero":false},"axis":{"values":[0.025,0.05,0.075,0.1],"gridColor":"#dedede","gridWidth":1.4,"labels":false,"ticks":false,"title":null}},"y":{"field":"y","type":"quantitative","scale":{"domain":[0.0204,0.5245],"nice":false,"zero":false},"axis":{"values":[0.1,0.2,0.3,0.4,0.5],"gridColor":"#dedede","gridWidth":1.4,"labels":false,"ticks":false,"title":null}}}},

{"width":241,"height":248,"encoding":{"x":{"field":"x","type":"quantitative","scale":{"domain":[-3.43,6.78],"nice":false,"zero":false},"axis":{"values":[-2.5,-1.25,0,1.25,2.5,3.75,5,6.25],"gridColor":{"condition":{"test":"datum.value%2.5!=0","value":"#f6f6f6"},"value":"#ececec"},"tickOpacity":{"condition":{"test":"datum.value%2.5!=0","value":0},"value":1},"labelExpr":"datum.value%2.5!=0?'':(datum.value<0?'-2.5':format(datum.value,'.1f'))","title":"b_est"}},"y":{"field":"y","type":"quantitative","scale":{"domain":[0.0029,0.1058],"nice":false,"zero":false},"axis":{"values":[0.0125,0.025,0.0375,0.05,0.0625,0.075,0.0875,0.1],"gridColor":{"condition":{"test":"round(datum.value*10000)%250!=0","value":"#f6f6f6"},"value":"#ececec"},"tickOpacity":{"condition":{"test":"round(datum.value*10000)%250!=0","value":0},"value":1},"labelExpr":"round(datum.value*10000)%250!=0?'':format(datum.value,'.3f')","title":"c_se"}}},"layer":[{"data":{"name":"fb"},"mark":{"type":"circle","size":34,"color":"#d95f02","opacity":0.15}},{"data":{"name":"eb"},"mark":{"type":"circle","size":110,"color":"#d95f02","opacity":0.2}},{"data":{"name":"cb"},"mark":{"type":"circle","size":320,"color":"#d95f02","opacity":1}},{"data":{"name":"eb"},"mark":{"type":"circle","size":50,"color":"#d95f02","opacity":1}},{"data":{"name":"sb"},"mark":{"type":"circle","size":125,"color":"#d95f02","opacity":1}}]},
{"width":241,"height":248,"encoding":{"x":{"field":"x","type":"quantitative","scale":{"domain":[-0.335,7.74],"nice":false,"zero":false},"axis":{"values":[0,1,2,3,4,5,6,7],"gridColor":{"condition":{"test":"datum.value%2!=0","value":"#f6f6f6"},"value":"#ececec"},"tickOpacity":{"condition":{"test":"datum.value%2!=0","value":0},"value":1},"labelExpr":"datum.value%2!=0?'':format(datum.value,'d')","title":"b_se"}},"y":{"field":"y","type":"quantitative","scale":{"domain":[0.0029,0.1058],"nice":false,"zero":false},"axis":{"values":[0.0125,0.025,0.0375,0.05,0.0625,0.075,0.0875,0.1],"gridColor":{"condition":{"test":"round(datum.value*10000)%250!=0","value":"#f6f6f6"},"value":"#ececec"},"labels":false,"ticks":false,"title":null}}},"layer":[{"data":{"name":"fe"},"mark":{"type":"circle","size":34,"color":"#d95f02","opacity":0.15}},{"data":{"name":"ee"},"mark":{"type":"circle","size":110,"color":"#d95f02","opacity":0.2}},{"data":{"name":"ce"},"mark":{"type":"circle","size":160,"color":"#d95f02","opacity":1}},{"data":{"name":"ee"},"mark":{"type":"circle","size":50,"color":"#d95f02","opacity":1}}]},
{"width":241,"height":248,"encoding":{"x":{"field":"x","type":"quantitative","scale":{"domain":[0.0237,0.5206],"nice":false,"zero":false},"axis":{"values":[0.05,0.1,0.15,0.2,0.25,0.3,0.35,0.4,0.45,0.5],"gridColor":{"condition":{"test":"round(datum.value*100)%10!=0","value":"#f6f6f6"},"value":"#ececec"},"tickOpacity":{"condition":{"test":"round(datum.value*100)%10!=0","value":0},"value":1},"labelExpr":"round(datum.value*100)%10!=0?'':format(datum.value,'.1f')","title":"c_est"}},"y":{"field":"y","type":"quantitative","scale":{"domain":[0.0029,0.1058],"nice":false,"zero":false},"axis":{"values":[0.0125,0.025,0.0375,0.05,0.0625,0.075,0.0875,0.1],"gridColor":{"condition":{"test":"round(datum.value*10000)%250!=0","value":"#f6f6f6"},"value":"#ececec"},"labels":false,"ticks":false,"title":null}}},"layer":[{"data":{"name":"fc"},"mark":{"type":"circle","size":34,"color":"#d95f02","opacity":0.15}},{"data":{"name":"ec"},"mark":{"type":"circle","size":110,"color":"#d95f02","opacity":0.2}},{"data":{"name":"cc"},"mark":{"type":"circle","size":320,"color":"#d95f02","opacity":1}},{"data":{"name":"ec"},"mark":{"type":"circle","size":50,"color":"#d95f02","opacity":1}},{"data":{"name":"sc"},"mark":{"type":"circle","size":125,"color":"#d95f02","opacity":1}}]},
{"width":241,"height":248,"data":{"name":"dcs"},"mark":{"type":"area","color":"#d95f02","opacity":0.62,"interpolate":"monotone"},"encoding":{"x":{"field":"x","type":"quantitative","scale":{"domain":[0.0026,0.1065],"nice":false,"zero":false},"axis":{"values":[0.0125,0.025,0.0375,0.05,0.0625,0.075,0.0875,0.1],"gridColor":{"condition":{"test":"round(datum.value*10000)%250!=0","value":"#f6f6f6"},"value":"#ececec"},"tickOpacity":{"condition":{"test":"round(datum.value*10000)%250!=0","value":0},"value":1},"labelExpr":"round(datum.value*10000)%250!=0?'':format(datum.value,'.3f')","title":"c_se"}},"y":{"field":"y","type":"quantitative","scale":{"domain":[-1.21,26.76],"nice":false,"zero":false},"axis":{"values":[0,5,10,15,20,25],"gridColor":{"condition":{"test":"datum.value%10!=0","value":"#f6f6f6"},"value":"#ececec"},"labels":false,"ticks":false,"title":null}}}}
]}
